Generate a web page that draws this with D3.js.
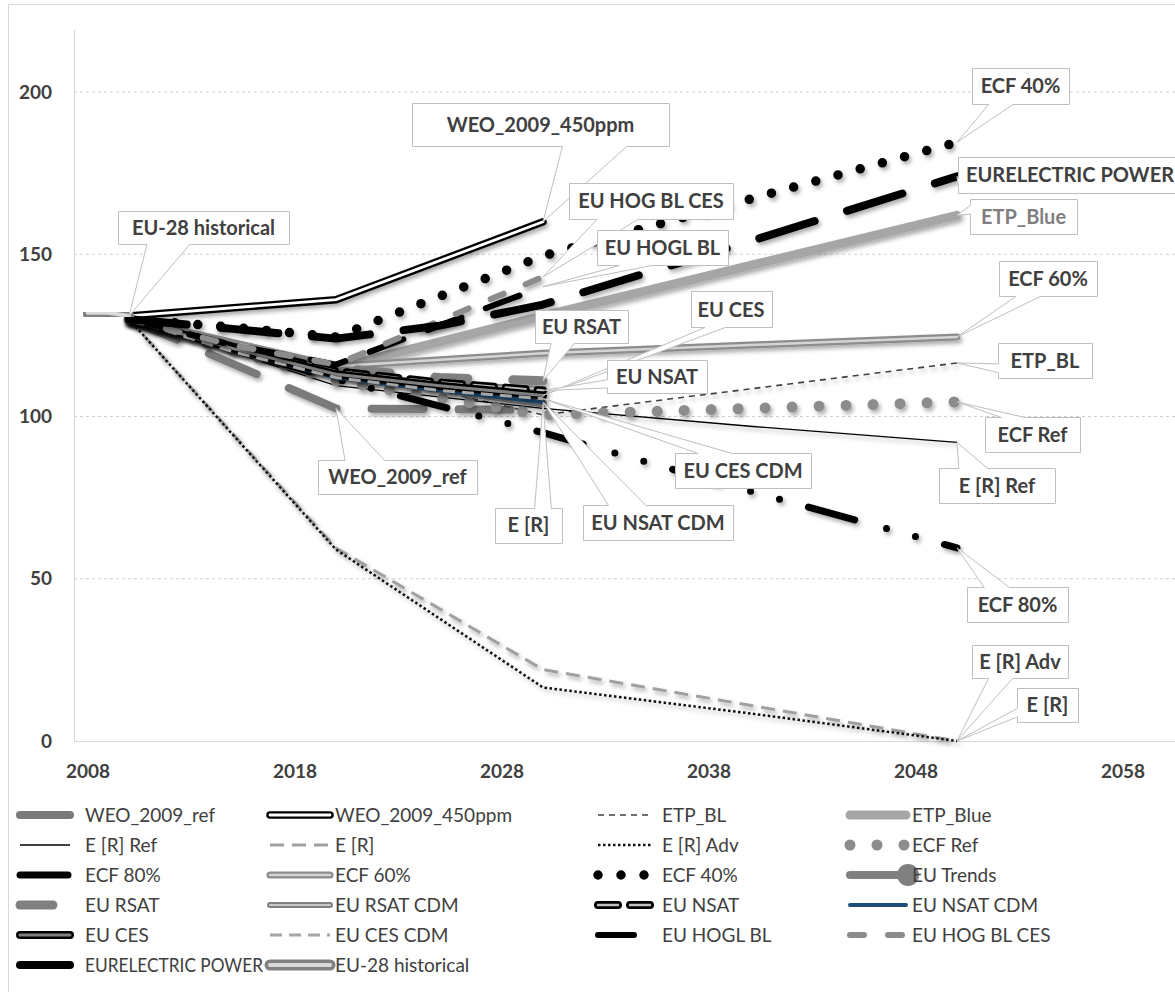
<!DOCTYPE html>
<html><head><meta charset="utf-8">
<script src="https://cdn.jsdelivr.net/npm/d3@7"></script>
<style>body{margin:0;background:#fff}svg{display:block;font-family:Lato,"Liberation Sans",sans-serif}</style>
</head><body><svg id="c" width="1175" height="992"></svg>
<script>
// ---------- data ----------
const xTicks = [2008, 2018, 2028, 2038, 2048, 2058];
const yTicks = [0, 50, 100, 150, 200];
const seriesNames = ["WEO_2009_ref","WEO_2009_450ppm","ETP_BL","ETP_Blue","E [R] Ref","E [R]","E [R] Adv","ECF Ref",
  "ECF 80%","ECF 60%","ECF 40%","EU Trends","EU RSAT","EU RSAT CDM","EU NSAT","EU NSAT CDM",
  "EU CES","EU CES CDM","EU HOGL BL","EU HOG BL CES","EURELECTRIC POWER","EU-28 historical"];
const WEO_2009_ref = [[2010,130],[2020,102.5],[2030,102]];
const WEO_2009_450ppm = [[2010,131],[2020,136],[2030,160]];
const ETP_BL = [[2010,130],[2030,100.5],[2050,116.5]];
const ETP_Blue = [[2010,130],[2020,115],[2030,131],[2050,162]];
const E_R_Ref = [[2010,130],[2020,109.5],[2030,102.5],[2040,97],[2050,92]];
const E_R = [[2010,130],[2020,59.5],[2030,22],[2040,11],[2050,0]];
const E_R_Adv = [[2010,130],[2020,59],[2030,16.5],[2040,8.5],[2050,0]];
const ECF_Ref = [[2010,130],[2020,111],[2030,100.5],[2040,102.5],[2050,104.5]];
const ECF_80 = [[2010,130],[2020,111.5],[2030,95],[2040,77],[2050,59.5]];
const ECF_60 = [[2010,130],[2020,115.5],[2030,119.5],[2040,122],[2050,124.5]];
const ECF_40 = [[2010,130],[2015,127.5],[2020,124.5],[2030,149.5],[2040,167],[2050,184.5]];
const EU_Trends = [[2010,130],[2015,121],[2020,113],[2025,108.5],[2030,104]];
const EU_RSAT = [[2010,130],[2015,122],[2020,115],[2025,112],[2030,111]];
const EU_RSAT_CDM = [[2010,130],[2015,121],[2020,113.5],[2025,110],[2030,108.5]];
const EU_NSAT = [[2010,130],[2015,121.5],[2020,114],[2025,110.5],[2030,108]];
const EU_NSAT_CDM = [[2010,130],[2015,120.5],[2020,112],[2025,108],[2030,104.5]];
const EU_CES = [[2010,130],[2015,121],[2020,113],[2025,109.5],[2030,106.5]];
const EU_CES_CDM = [[2010,130],[2015,120],[2020,112],[2025,108],[2030,105.5]];
const EU_HOGL_BL = [[2010,130],[2015,122],[2020,116],[2025,128],[2030,140]];
const EU_HOG_BL_CES = [[2010,130],[2015,122],[2020,116],[2025,129.5],[2030,143]];
const EURELECTRIC = [[2010,130],[2015,127],[2020,124],[2025,128],[2030,134.5],[2040,154],[2050,174]];
const EU_28_hist = [[2008,132],[2009,132],[2010,131]];

const seriesData = [WEO_2009_ref, WEO_2009_450ppm, ETP_BL, ETP_Blue, E_R_Ref, E_R, E_R_Adv, ECF_Ref,
  ECF_80, ECF_60, ECF_40, EU_Trends, EU_RSAT, EU_RSAT_CDM, EU_NSAT, EU_NSAT_CDM,
  EU_CES, EU_CES_CDM, EU_HOGL_BL, EU_HOG_BL_CES, EURELECTRIC, EU_28_hist];

// ---------- styles ----------
const styles = {
  "WEO_2009_ref": [{c:"#7a7a7a",w:8,d:"52,35"}],
  "WEO_2009_450ppm": [{c:"#000",w:7.5},{c:"#fff",w:2.8}],
  "ETP_BL": [{c:"#404040",w:1.6,d:"6,5",cap:"butt"}],
  "ETP_Blue": [{c:"#a6a6a6",w:9}],
  "E [R] Ref": [{c:"#000",w:1.3,cap:"butt"}],
  "E [R]": [{c:"#a0a0a0",w:3,d:"14,8",cap:"butt"}],
  "E [R] Adv": [{c:"#111",w:2.5,d:"2.5,2.5",cap:"butt"}],
  "ECF Ref": [{c:"#8c8c8c",w:11,d:"0,27"}],
  "ECF 80%": [{c:"#000",w:7,d:"48,33,0,30,0,30"}],
  "ECF 60%": [{c:"#8c8c8c",w:7},{c:"#d4d4d4",w:2.5}],
  "ECF 40%": [{c:"#000",w:9.5,d:"0,23"}],
  "EU Trends": [{c:"#808080",w:8}],
  "EU RSAT": [{c:"#808080",w:9,d:"33,45"}],
  "EU RSAT CDM": [{c:"#808080",w:6},{c:"#c8c8c8",w:2}],
  "EU NSAT": [{c:"#000",w:8,d:"20,12"},{c:"#c0c0c0",w:2.5,d:"20,12"}],
  "EU NSAT CDM": [{c:"#1f4e79",w:4}],
  "EU CES": [{c:"#000",w:8},{c:"#808080",w:3}],
  "EU CES CDM": [{c:"#a6a6a6",w:3,d:"12,7",cap:"butt"}],
  "EU HOGL BL": [{c:"#000",w:6,d:"36,26"}],
  "EU HOG BL CES": [{c:"#8c8c8c",w:6,d:"14,24"}],
  "EURELECTRIC POWER": [{c:"#000",w:8,d:"58,34"}],
  "EU-28 historical": [{c:"#808080",w:11},{c:"#d9d9d9",w:4}]
};
// callout layout: series, year of point, text, box offset dx, dy, box w, h
const callouts = [
  ["EU-28 historical",2010,"EU-28 historical",74.5,-88,171,33],
  ["WEO_2009_450ppm",2030,"WEO_2009_450ppm",-2.5,-97,257,43],
  ["EU HOG BL CES",2030,"EU HOG BL CES",108,-76,164,36],
  ["EU HOGL BL",2030,"EU HOGL BL",119.5,-39,131,35],
  ["EU RSAT",2030,"EU RSAT",38.5,-54,93,33],
  ["EU CES",2030,"EU CES",188,-86,81,36],
  ["EU NSAT",2030,"EU NSAT",114,-14,100,33],
  ["EU CES CDM",2030,"EU CES CDM",200,72,136,35],
  ["EU NSAT CDM",2030,"EU NSAT CDM",115,120.6,150,35],
  ["EU Trends",2030,"E [R]",-14.5,121.5,67,35],
  ["WEO_2009_ref",2020,"WEO_2009_ref",61.5,68.6,159,34],
  ["ECF 40%",2050,"ECF 40%",63.5,-56,97,36],
  ["EURELECTRIC POWER",2050,"EURELECTRIC POWER",113,-1.3,224,36],
  ["ETP_Blue",2050,"ETP_Blue",66.5,1.3,107,35],
  ["ECF 60%",2050,"ECF 60%",91,-58.5,98,35],
  ["ETP_BL",2050,"ETP_BL",88,-2.5,94,35],
  ["ECF Ref",2050,"ECF Ref",75.5,32.6,95,35],
  ["E [R] Ref",2050,"E [R] Ref",40,43,116,35],
  ["ECF 80%",2050,"ECF 80%",60.5,56.6,101,35],
  ["E [R] Adv",2050,"E [R] Adv",63,-79.5,96,33],
  ["E [R]",2050,"E [R]",90.5,-36,61,34]
];

// ---------- chart ----------
const svg = d3.select("#c");
const x = d3.scaleLinear().domain([2008, 2050]).range([87.6, 957]);
const y = d3.scaleLinear().domain([0, 200]).range([741, 92]);
const plotL = 74, plotR = 1175, plotT = 30, plotB = 741;

const defs = svg.append("defs");
const f = defs.append("filter").attr("id","sh").attr("x","-10%").attr("y","-10%").attr("width","120%").attr("height","130%");
f.append("feDropShadow").attr("dx",2).attr("dy",3).attr("stdDeviation",2.2).attr("flood-color","#000").attr("flood-opacity",0.33);

svg.append("rect").attr("x",8.5).attr("y",4.5).attr("width",1300).attr("height",1300)
  .attr("fill","#fff").attr("stroke","#d9d9d9");

// gridlines
svg.append("g").selectAll("line").data(yTicks.filter(d=>d>0)).join("line")
  .attr("x1",plotL).attr("x2",plotR).attr("y1",d=>y(d)).attr("y2",d=>y(d))
  .attr("stroke","#d0d0d0").attr("stroke-dasharray","3,3");
// axes lines
svg.append("line").attr("x1",plotL+0.5).attr("x2",plotL+0.5).attr("y1",plotT).attr("y2",plotB).attr("stroke","#d9d9d9");
svg.append("line").attr("x1",plotL).attr("x2",plotR).attr("y1",plotB+0.5).attr("y2",plotB+0.5).attr("stroke","#d9d9d9");

const xAxis = svg.append("g").attr("transform",`translate(0,${plotB})`)
  .call(d3.axisBottom(x).tickValues(xTicks).tickSize(0).tickPadding(24).tickFormat(d3.format("d")));
const yAxis = svg.append("g").attr("transform",`translate(${plotL},0)`)
  .call(d3.axisLeft(y).tickValues(yTicks).tickSize(0).tickPadding(22));
[xAxis,yAxis].forEach(a=>{
  a.select(".domain").remove();
  a.selectAll("text").attr("font-family","Lato,'Liberation Sans',sans-serif").attr("font-size",19)
   .attr("font-weight","bold").attr("fill","#404040");
});

const line = d3.line().x(d=>x(d[0])).y(d=>y(d[1]));
function drawLayers(g, d, name){
  styles[name].forEach(s=>{
    g.append("path").attr("d",d).attr("fill","none").attr("stroke",s.c).attr("stroke-width",s.w)
      .attr("stroke-linecap",s.cap||"round").attr("stroke-linejoin","round")
      .attr("stroke-dasharray",s.d||null);
  });
}
const seriesG = svg.append("g");
seriesNames.forEach((n,i)=>{
  const g = seriesG.append("g").attr("filter","url(#sh)");
  drawLayers(g, line(seriesData[i]), n);
});

// callouts
function wedge(l,t,w,h,px,py){
  const r=l+w,b=t+h,hc=l+w/2,vc=t+h/2;
  const dxPos=px-hc, dyPos=py-vc;
  const dq=dxPos*h/w, dz=Math.abs(dyPos)-Math.abs(dq);
  const xg1=dxPos>0?7:2, xg2=dxPos>0?10:5, yg1=dyPos>0?7:2, yg2=dyPos>0?10:5;
  const x1=l+w*xg1/12, x2=l+w*xg2/12, y1=t+h*yg1/12, y2=t+h*yg2/12;
  let p=`M${l},${t}`;
  if(dz>0 && dyPos<0) p+=`L${x1},${t}L${px},${py}L${x2},${t}`;
  p+=`L${r},${t}`;
  if(dz<=0 && dxPos>0) p+=`L${r},${y1}L${px},${py}L${r},${y2}`;
  p+=`L${r},${b}`;
  if(dz>0 && dyPos>0) p+=`L${x2},${b}L${px},${py}L${x1},${b}`;
  p+=`L${l},${b}`;
  if(dz<=0 && dxPos<0) p+=`L${l},${y2}L${px},${py}L${l},${y1}`;
  return p+"Z";
}
const calloutG = svg.append("g");
callouts.forEach(([name,yr,txt,dx,dy,w,h])=>{
  const data = seriesData[seriesNames.indexOf(name)];
  const pt = data.find(d=>d[0]===yr);
  const px = x(pt[0]), py = y(pt[1]);
  const cx = px+dx, cy = py+dy;
  const l = Math.round(cx-w/2)+0.5, t = Math.round(cy-h/2)+0.5;
  calloutG.append("path").attr("d",wedge(l,t,w,h,px,py)).attr("fill","#fff").attr("stroke","#bfbfbf").attr("stroke-width",1);
  calloutG.append("text").attr("x",cx).attr("y",cy).attr("dy","0.36em").attr("text-anchor","middle")
    .attr("font-size",20).attr("font-weight","bold").attr("fill",name==="ETP_Blue"?"#7f7f7f":"#404040").text(txt);
});

// legend
const colSym = [20,270,598,850], colLen = [50,60,54,56], colText = [85,335,662,912];
const colMax = [178, 250, 180, 250];
const legG = svg.append("g");
seriesNames.forEach((n,i)=>{
  const col=i%4, row=Math.floor(i/4);
  const ly = 815 + row*30;
  const g = legG.append("g");
  drawLayers(g, `M${colSym[col]},${ly}L${colSym[col]+colLen[col]},${ly}`, n);
  if(n==="EU Trends") g.append("circle").attr("cx",colSym[col]+colLen[col]+2).attr("cy",ly).attr("r",11).attr("fill","#808080");
  const t = legG.append("text").attr("x",colText[col]).attr("y",ly).attr("dy","0.35em").attr("font-size",19)
    .attr("fill","#404040").text(n);
  const wd = t.node().getComputedTextLength();
  if (wd > colMax[col]) t.attr("textLength", colMax[col]).attr("lengthAdjust","spacingAndGlyphs");
});
</script></body></html>
